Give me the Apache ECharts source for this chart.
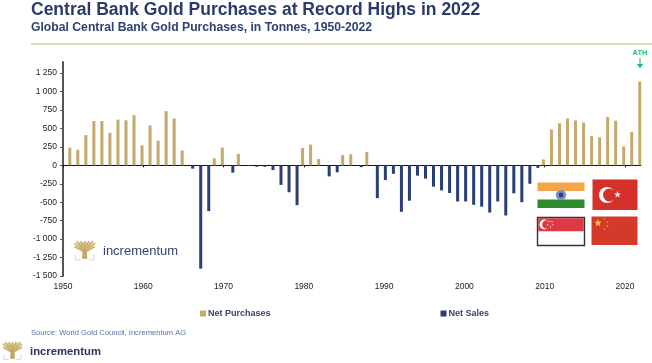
<!DOCTYPE html>
<html><head><meta charset="utf-8">
<style>html,body{margin:0;padding:0;background:#fff}#c{width:652px;height:363px;filter:blur(0.45px)}</style>
<script src="https://cdn.jsdelivr.net/npm/echarts@6/dist/echarts.min.js"></script>
</head><body><div id="c"></div>
<script>
const purchaseYears = [1951,1952,1953,1954,1955,1956,1957,1958,1959,1960,1961,1962,1963,1964,1965,1969,1970,1972,1980,1981,1982,1985,1986,1988,2010,2011,2012,2013,2014,2015,2016,2017,2018,2019,2020,2021,2022];
const purchaseValues = [240,210,410,600,600,440,620,610,680,270,540,335,735,635,200,95,240,155,235,280,85,140,150,180,80,485,570,635,608,580,395,380,655,605,255,450,1135];
const saleYears = [1966,1967,1968,1971,1973,1974,1975,1976,1977,1978,1979,1983,1984,1987,1989,1990,1991,1992,1993,1994,1995,1996,1997,1998,1999,2000,2001,2002,2003,2004,2005,2006,2007,2008,2009];
const saleValues = [-45,-1400,-620,-100,-8,-20,-20,-65,-265,-365,-540,-150,-95,-25,-445,-200,-115,-630,-480,-140,-180,-290,-340,-375,-490,-490,-535,-560,-640,-490,-680,-380,-500,-250,-35];
const yTicks = [-1500,-1250,-1000,-750,-500,-250,0,250,500,750,1000,1250];
const xTicks = [1950,1960,1970,1980,1990,2000,2010,2020];
const titleText = 'Central Bank Gold Purchases at Record Highs in 2022';
const subtitleText = 'Global Central Bank Gold Purchases, in Tonnes, 1950-2022';
const sourceText = 'Source: World Gold Council, Incrementum AG';
const brandText = 'incrementum';

const GOLD='#c4a96b', NAVY='#2a3f73', FONT='"Liberation Sans",Arial,sans-serif';
const pair=(xs,ys)=>xs.map((x,i)=>[x,ys[i]]);
const fmt=v=>{const a=Math.abs(v);const s=a>=1000?Math.floor(a/1000)+' '+String(a%1000).padStart(3,'0'):String(a);return (v<0?'-':'')+s;};

function starPts(cx,cy,R,rot){const p=[];for(let i=0;i<10;i++){const r=i%2?R*0.42:R;const a=(rot||-90)*Math.PI/180+i*Math.PI/5;p.push([cx+r*Math.cos(a),cy+r*Math.sin(a)]);}return p;}
const rect=(x,y,w,h,fill,extra)=>Object.assign({type:'rect',shape:{x,y,width:w,height:h},style:{fill}},extra||{});
const circ=(cx,cy,r,fill)=>({type:'circle',shape:{cx,cy,r},style:{fill}});
const star=(cx,cy,R,fill,rot)=>({type:'polygon',shape:{points:starPts(cx,cy,R,rot)},style:{fill}});
const txt=(x,y,text,font,fill,align)=>({type:'text',x,y,style:{text,font,fill,textAlign:align||'left',textVerticalAlign:'middle'}});

const crownTips=[[-10,5.5],[-10,2],[-8,0],[-6,1.5],[-4,0],[-2,1.5],[0,0],[2,1.5],[4,0],[6,1.5],[8,0],[10,2],[10,5.5]];
function tree(x,y,s){
  const e=[],c='#cdb273',cx=x+10*s;
  crownTips.forEach(t=>{
    e.push({type:'line',shape:{x1:cx,y1:y+11*s,x2:cx+t[0]*s,y2:y+t[1]*s},style:{stroke:c,lineWidth:1.7*s}});
  });
  e.push({type:'polygon',shape:{points:[[cx-1.8*s,y+8*s],[cx+1.8*s,y+8*s],[cx+2.6*s,y+17.5*s],[cx-2.6*s,y+17.5*s]]},style:{fill:'#c4a45e'}});
  e.push({type:'polyline',shape:{points:[[x+1*s,y+13*s],[x+1*s,y+18.5*s],[x+6*s,y+18.5*s]]},style:{stroke:'#d8d8d8',fill:'none',lineWidth:1}});
  e.push({type:'polyline',shape:{points:[[x+19*s,y+13*s],[x+19*s,y+18.5*s],[x+14*s,y+18.5*s]]},style:{stroke:'#d8d8d8',fill:'none',lineWidth:1}});
  return e;
}

const flags=[
  // India
  rect(537.5,182.5,47,26,'#ffffff'),rect(537.5,182.5,47,8.5,'#f7a54b'),rect(537.5,199.5,47,8.5,'#2f8a2b'),
  circ(561,195,5.2,'#7d8fc4'),circ(561,195,2.4,'#2a3f83'),
  // Turkey
  rect(592.5,179.5,45,30.5,'#d5302a'),circ(607,195,8,'#ffffff'),circ(609.4,195,6.4,'#d5302a'),star(617.5,194.6,3.6,'#ffffff',-90),
  // Singapore
  rect(537.5,217.5,47,28,'#ffffff',{style:{fill:'#fff',stroke:'#333',lineWidth:1.4}}),rect(538.2,218.2,45.6,13,'#dc3b45'),
  circ(544.5,224.5,5,'#ffffff'),circ(546.5,224.5,4.3,'#dc3b45'),
  star(549,221.6,1,'#fff'),star(552,221.6,1,'#fff'),star(547.6,224.5,1,'#fff'),star(553,224.5,1,'#fff'),star(550.5,227,1,'#fff'),
  // China
  rect(591.5,216.5,46,28.5,'#d5392a'),star(598,223,3.9,'#f6d537',-90),
  star(604.5,218.8,1.1,'#f0c040'),star(607.5,222,1.1,'#f0c040'),star(607.5,226,1.1,'#f0c040'),star(604.5,229,1.1,'#f0c040')
];

const graphic=[].concat(
  [txt(31,10,titleText,'bold 17.5px '+FONT,'#2a3b6b'),
   txt(31,27.5,subtitleText,'bold 12.2px '+FONT,'#2f4274'),
   rect(31,43.2,621,1.6,'#dccfa4'),
   txt(640,52.5,'ATH','bold 7.5px '+FONT,'#1fc46b','center'),
   {type:'line',shape:{x1:640,y1:58,x2:640,y2:66},style:{stroke:'#1fb860',lineWidth:1.1}},
   {type:'polygon',shape:{points:[[637,64],[643,64],[640,68.5]]},style:{fill:'#1fb860'}},
   txt(31,332.5,sourceText,'7.6px '+FONT,'#5a6fa3'),
   txt(103,251,brandText,'13px '+FONT,'#33456f'),
   txt(30,352,brandText,'bold 11.3px '+FONT,'#2a3560')],
  tree(74.5,241,1.02),tree(3,342,0.95),flags
);

const chart=echarts.init(document.getElementById('c'),null,{renderer:'canvas'});
chart.setOption({
  animation:false,
  backgroundColor:'#fff',
  textStyle:{fontFamily:FONT},
  grid:{left:63,right:11,top:62,bottom:87,containLabel:false},
  legend:{left:195,top:304,itemWidth:6,itemHeight:6,itemGap:170,icon:'rect',
    textStyle:{fontFamily:FONT,fontSize:9,fontWeight:'bold',color:'#33456f',padding:[0,0,0,-3]},
    data:['Net Purchases','Net Sales']},
  xAxis:[
   {type:'value',min:1950,max:2022,interval:10,position:'bottom',splitLine:{show:false},
    axisLine:{onZero:false,show:false},axisTick:{show:false},
    axisLabel:{margin:6,fontSize:8.5,color:'#222',fontFamily:FONT,customValues:xTicks,formatter:v=>String(v)}},
   {type:'value',min:1950,max:2022,interval:10,position:'top',splitLine:{show:false},
    axisLine:{onZero:true,show:true,lineStyle:{color:'#111',width:1}},
    axisTick:{show:true,inside:true,length:2,customValues:xTicks,lineStyle:{color:'#111'}},axisLabel:{show:false}}
  ],
  yAxis:{type:'value',min:-1500,max:1400,splitLine:{show:false},
    axisLine:{show:true,onZero:false,lineStyle:{color:'#555',width:2}},
    axisTick:{show:true,length:3,customValues:yTicks,lineStyle:{color:'#555'}},
    axisLabel:{margin:6,fontSize:8.5,color:'#222',fontFamily:FONT,customValues:yTicks,formatter:v=>fmt(v)}},
  series:[
   {name:'Net Purchases',type:'bar',xAxisIndex:0,barWidth:3,barGap:'-17%',clip:false,
    itemStyle:{color:GOLD},data:pair(purchaseYears,purchaseValues)},
   {name:'Net Sales',type:'bar',xAxisIndex:0,barWidth:3,barGap:'-17%',clip:false,
    itemStyle:{color:NAVY},data:pair(saleYears,saleValues)}
  ],
  graphic:{elements:graphic}
});
</script></body></html>
